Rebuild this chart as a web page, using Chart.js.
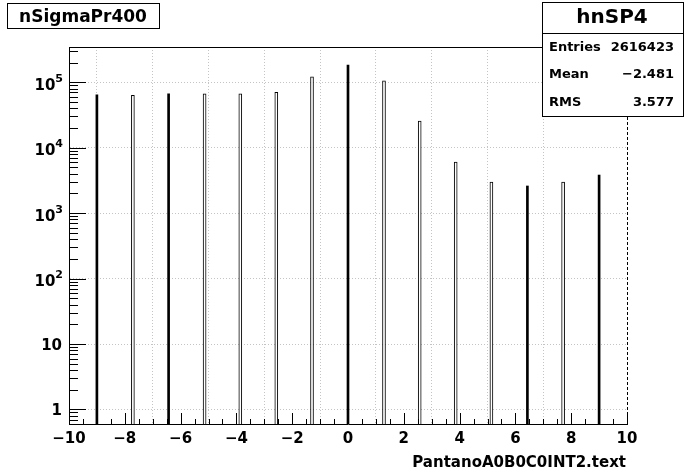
<!DOCTYPE html>
<html>
<head>
<meta charset="utf-8">
<script src="https://cdn.jsdelivr.net/npm/chart.js@4.4.1/dist/chart.umd.min.js"></script>
<style>
    html, body { margin: 0; padding: 0; background: #fff; }
    #wrap { position: relative; width: 696px; height: 472px; }
</style>
</head>
<body>
<div id="wrap"><canvas id="histChart" width="696" height="472"></canvas></div>
<script>
// histogram spikes
const binCenters = [-9, -7.71, -6.43, -5.14, -3.86, -2.57, -1.29, 0, 1.29, 2.57, 3.86, 5.14, 6.43, 7.71, 9];
const binCounts = [64000, 63300, 66400, 66400, 66400, 70400, 120500, 183600, 104700, 25500, 6030, 2990, 2600, 2990, 3820];
const binSolid = [true, false, true, false, false, false, false, true, false, false, false, false, true, false, true];

const xTickValues = [-10, -8, -6, -4, -2, 0, 2, 4, 6, 8, 10];
const xTickLabels = ['\u221210', '\u22128', '\u22126', '\u22124', '\u22122', '0', '2', '4', '6', '8', '10'];
const yTickValues = [1, 10, 100, 1000, 10000, 100000];
const yTickExponents = [null, null, '2', '3', '4', '5'];

const histTitle = 'nSigmaPr400';
const statsName = 'hnSP4';
const statsLabels = ['Entries', 'Mean', 'RMS'];
const statsValues = ['2616423', '\u22122.481', '3.577'];
const xAxisTitle = 'PantanoA0B0C0INT2.text';

const FONT = '"DejaVu Sans", "Liberation Sans", sans-serif';
const GRID = '#c4c4c4';

const hollowPoints = binCenters.map((x, i) => ({ x: x, y: binCounts[i] })).filter((p, i) => !binSolid[i]);
const solidPoints = binCenters.map((x, i) => ({ x: x, y: binCounts[i] })).filter((p, i) => binSolid[i]);

// ROOT style frame, inward ticks, labels and the two text boxes
const rootDecor = {
    id: 'rootDecor',
    afterDraw(chart) {
        const ctx = chart.ctx;
        const a = chart.chartArea;
        const xs = chart.scales.x;
        const ys = chart.scales.y;
        ctx.save();
        ctx.strokeStyle = '#000';
        ctx.fillStyle = '#000';
        ctx.lineWidth = 1;

        // y ticks
        ctx.beginPath();
        for (let d = 0.1; d <= 1e6; d *= 10) {
            for (let k = 1; k <= 9; k++) {
                const v = k * d;
                if (v < ys.min || v > ys.max) continue;
                const py = Math.round(ys.getPixelForValue(v)) + 0.5;
                const len = k === 1 ? 17 : 9;
                ctx.moveTo(a.left, py);
                ctx.lineTo(a.left + len, py);
            }
        }
        // x ticks
        for (let v = -10; v <= 10.001; v += 0.5) {
            const px = Math.round(xs.getPixelForValue(v)) + 0.5;
            const major = Math.abs(v / 2 - Math.round(v / 2)) < 1e-6;
            ctx.moveTo(px, a.bottom);
            ctx.lineTo(px, a.bottom - (major ? 11 : 5));
        }
        ctx.stroke();

        // top frame line and dashed right edge
        ctx.beginPath();
        ctx.moveTo(a.left, Math.round(a.top) + 0.5);
        ctx.lineTo(a.right, Math.round(a.top) + 0.5);
        ctx.stroke();
        ctx.setLineDash([3, 2]);
        ctx.beginPath();
        ctx.moveTo(Math.round(a.right) + 0.5, a.top);
        ctx.lineTo(Math.round(a.right) + 0.5, a.bottom);
        ctx.stroke();
        ctx.setLineDash([]);

        // y labels
        ctx.textAlign = 'right';
        ctx.textBaseline = 'alphabetic';
        yTickValues.forEach((v, i) => {
            const py = ys.getPixelForValue(v);
            const sup = yTickExponents[i];
            if (!sup) {
                ctx.font = 'bold 15px ' + FONT;
                ctx.fillText(String(v), 62, py + 5.5);
            } else {
                ctx.font = 'bold 11px ' + FONT;
                const w = ctx.measureText(sup).width;
                ctx.fillText(sup, 63, py - 0.5);
                ctx.font = 'bold 15px ' + FONT;
                ctx.fillText('10', 63 - w, py + 7.5);
            }
        });

        // x labels
        ctx.textAlign = 'center';
        ctx.font = 'bold 15px ' + FONT;
        xTickValues.forEach((v, i) => {
            ctx.fillText(xTickLabels[i], xs.getPixelForValue(v), 442.5);
        });

        // x axis title
        ctx.textAlign = 'right';
        ctx.fillText(xAxisTitle, 626, 467);

        // title box
        ctx.fillStyle = '#fff';
        ctx.fillRect(7.5, 3.5, 152, 25);
        ctx.strokeRect(7.5, 3.5, 152, 25);
        ctx.fillStyle = '#000';
        ctx.textAlign = 'center';
        ctx.font = 'bold 17px ' + FONT;
        ctx.fillText(histTitle, 83, 22);

        // stats box
        ctx.fillStyle = '#fff';
        ctx.fillRect(542.5, 2.5, 141, 114);
        ctx.strokeRect(542.5, 2.5, 141, 114);
        ctx.beginPath();
        ctx.moveTo(542.5, 33.5);
        ctx.lineTo(683.5, 33.5);
        ctx.stroke();
        ctx.fillStyle = '#000';
        ctx.font = 'bold 20px ' + FONT;
        ctx.fillText(statsName, 612, 23);
        ctx.font = 'bold 13px ' + FONT;
        const rowY = [51, 78, 106];
        statsLabels.forEach((lab, i) => {
            ctx.textAlign = 'left';
            ctx.fillText(lab, 549, rowY[i]);
            ctx.textAlign = 'right';
            ctx.fillText(statsValues[i], 674, rowY[i]);
        });
        ctx.restore();
    }
};

new Chart(document.getElementById('histChart'), {
    type: 'bar',
    data: {
        datasets: [
            {
                label: 'hollow',
                data: hollowPoints,
                backgroundColor: '#fff',
                borderColor: '#000',
                borderWidth: 1,
                barThickness: 3,
                grouped: false
            },
            {
                label: 'solid',
                data: solidPoints,
                backgroundColor: '#000',
                borderWidth: 0,
                barThickness: 2,
                grouped: false
            }
        ]
    },
    options: {
        responsive: false,
        animation: false,
        devicePixelRatio: 1,
        layout: { padding: { left: 0, right: 69, top: 47, bottom: 0 } },
        plugins: { legend: { display: false }, tooltip: { enabled: false } },
        scales: {
            x: {
                type: 'linear',
                min: -10,
                max: 10,
                offset: false,
                afterBuildTicks: s => { s.ticks = xTickValues.map(v => ({ value: v })); },
                afterFit: s => { s.height = 48; },
                ticks: { display: false },
                grid: {
                    drawTicks: false,
                    lineWidth: 1,
                    color: c => (c.tick && Math.abs(c.tick.value) === 10) ? 'rgba(0,0,0,0)' : GRID
                },
                border: { display: true, color: '#000', width: 1, dash: [1, 2] }
            },
            y: {
                type: 'logarithmic',
                min: 0.611,
                max: 345600,
                afterBuildTicks: s => { s.ticks = yTickValues.map(v => ({ value: v })); },
                afterFit: s => { s.width = 69; },
                ticks: { display: false },
                grid: { drawTicks: false, lineWidth: 1, color: GRID },
                border: { display: true, color: '#000', width: 1, dash: [1, 2] }
            }
        }
    },
    plugins: [rootDecor]
});
</script>
</body>
</html>
